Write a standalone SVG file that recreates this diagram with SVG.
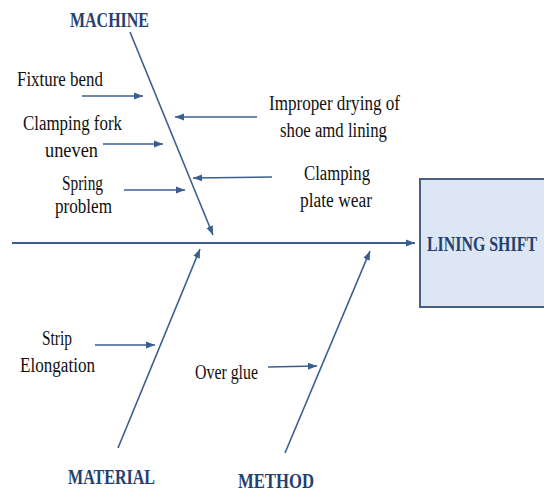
<svg xmlns="http://www.w3.org/2000/svg" width="544" height="493" viewBox="0 0 544 493">
<defs>
<marker id="ah" markerUnits="userSpaceOnUse" markerWidth="10" markerHeight="8" refX="9" refY="4" orient="auto">
<path d="M0,0.5 L9,4 L0,7.5 Z" fill="#3a5f8f"/>
</marker>
<style>
.ln{stroke:#3a5f8f;stroke-width:1.6;fill:none;marker-end:url(#ah)}
.t{font-family:"Liberation Serif",serif;font-size:20px;fill:#111}
.h{font-family:"Liberation Serif",serif;font-size:21px;font-weight:bold;fill:#24406e}
</style>
</defs>
<rect width="544" height="493" fill="#fff"/>
<g id="connectors">
<line class="ln" x1="12" y1="243" x2="415" y2="243" style="stroke-width:2"/>
<line class="ln" x1="130" y1="32" x2="213" y2="235"/>
<line class="ln" x1="118" y1="448" x2="200" y2="249"/>
<line class="ln" x1="285" y1="453" x2="370" y2="251"/>
<line class="ln" x1="82" y1="96" x2="143" y2="96"/>
<line class="ln" x1="103" y1="144" x2="163" y2="144"/>
<line class="ln" x1="124" y1="190" x2="185" y2="190"/>
<line class="ln" x1="257" y1="117" x2="175" y2="117"/>
<line class="ln" x1="272" y1="177" x2="193" y2="178"/>
<line class="ln" x1="95" y1="345" x2="155" y2="345"/>
<line class="ln" x1="268" y1="367" x2="317" y2="366"/>
</g>
<g id="effect">
<rect x="420" y="179" width="140" height="128" fill="#dce6f4" stroke="#4a5f80" stroke-width="2"/>
<text class="h" x="427" y="251" textLength="110" lengthAdjust="spacingAndGlyphs">LINING SHIFT</text>
</g>
<g id="machine"><text class="h" x="70" y="27" textLength="79" lengthAdjust="spacingAndGlyphs">MACHINE</text></g>
<g id="material"><text class="h" x="68" y="484" textLength="87" lengthAdjust="spacingAndGlyphs">MATERIAL</text></g>
<g id="method"><text class="h" x="238" y="488" textLength="76" lengthAdjust="spacingAndGlyphs">METHOD</text></g>
<g id="fixture-bend"><text class="t" x="17" y="86" textLength="86" lengthAdjust="spacingAndGlyphs">Fixture bend</text></g>
<g id="clamping-fork">
<text class="t" x="23" y="130" textLength="99" lengthAdjust="spacingAndGlyphs">Clamping fork</text>
<text class="t" x="45" y="157" textLength="53" lengthAdjust="spacingAndGlyphs">uneven</text>
</g>
<g id="spring">
<text class="t" x="62" y="190" textLength="41" lengthAdjust="spacingAndGlyphs">Spring</text>
<text class="t" x="55" y="213" textLength="57" lengthAdjust="spacingAndGlyphs">problem</text>
</g>
<g id="improper-drying">
<text class="t" x="269" y="110" textLength="131" lengthAdjust="spacingAndGlyphs">Improper drying of</text>
<text class="t" x="280" y="137" textLength="107" lengthAdjust="spacingAndGlyphs">shoe amd lining</text>
</g>
<g id="clamping-plate">
<text class="t" x="304" y="180" textLength="66" lengthAdjust="spacingAndGlyphs">Clamping</text>
<text class="t" x="300" y="207" textLength="72" lengthAdjust="spacingAndGlyphs">plate wear</text>
</g>
<g id="strip">
<text class="t" x="42" y="345" textLength="30" lengthAdjust="spacingAndGlyphs">Strip</text>
<text class="t" x="20" y="372" textLength="75" lengthAdjust="spacingAndGlyphs">Elongation</text>
</g>
<g id="over-glue"><text class="t" x="195" y="379" textLength="63" lengthAdjust="spacingAndGlyphs">Over glue</text></g>
</svg>
